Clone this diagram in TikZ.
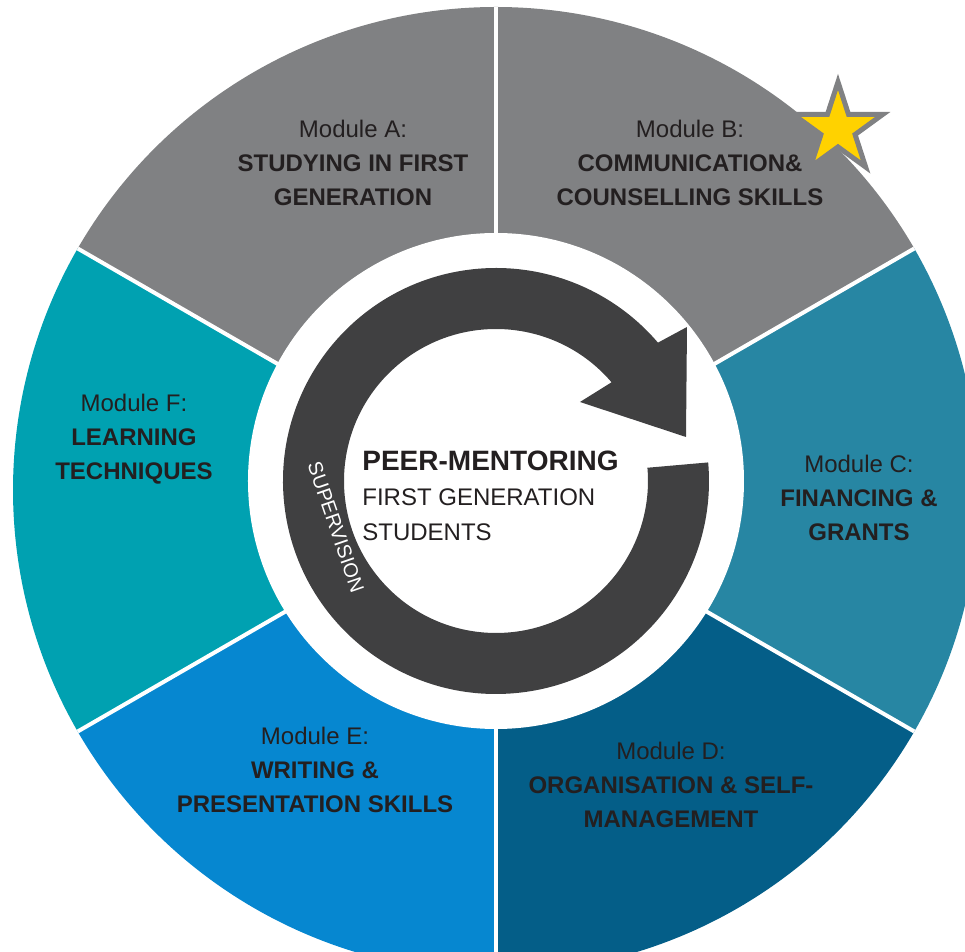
\documentclass[tikz,border=0pt]{standalone}
\usepackage{fontspec}
\setmainfont{Liberation Sans}
\usetikzlibrary{positioning,shapes.geometric}
\definecolor{seg-gray}{RGB}{128,129,131}
\definecolor{seg-c}{RGB}{39,134,163}
\definecolor{seg-d}{RGB}{4,94,136}
\definecolor{seg-e}{RGB}{6,135,208}
\definecolor{seg-f}{RGB}{0,161,177}
\definecolor{ring-gray}{RGB}{64,64,65}
\definecolor{label-dark}{RGB}{35,31,32}
\definecolor{star-yellow}{RGB}{255,210,0}
\newcommand{\wheelrad}{483}
\tikzstyle{modulestyle}=[align=center,text=label-dark,inner sep=0pt,font=\fontsize{12}{17}\selectfont]
\tikzstyle{centerstyle}=[align=left,text=label-dark,inner sep=0pt,font=\fontsize{12}{17.5}\selectfont]
\tikzstyle{ringtextstyle}=[text=white,inner sep=0pt,font=\fontsize{10}{12}\selectfont]
\tikzstyle{starstyle}=[star,star points=5,star point ratio=2.618,minimum size=47pt,inner sep=0pt,fill=star-yellow,draw=seg-gray,line width=2.5pt]
\newcommand{\wheelseg}[3]{ \fill[#3] (0,0) -- (#1:\wheelrad) arc[start angle=#1,end angle=#2,radius=\wheelrad] -- cycle; }
\newcommand{\wheelmodule}[5]{ \node[style=modulestyle] (#1) at (#2) {Module #3:\\\textbf{#4}\\\textbf{#5}}; }

\begin{document}
\begin{tikzpicture}[x=0.5pt,y=0.5pt]
\useasboundingbox (-496,-462) rectangle (469,490);
\wheelseg{90}{150}{seg-gray} %
\wheelseg{30}{90}{seg-gray} %
\wheelseg{-30}{30}{seg-c} %
\wheelseg{-90}{-30}{seg-d} %
\wheelseg{-150}{-90}{seg-e} %
\wheelseg{150}{210}{seg-f} %
\foreach \a in {30,90,...,330} \draw[white,line width=2pt] (0,0) -- (\a:\wheelrad);
\fill[white] (0,9) circle[radius=248];
\begin{scope}[shift={(0,9)}]
\fill[ring-gray] (5:213) arc[start angle=5,end angle=-319.5,radius=213] -- (191,154) -- (190,44) -- (84,79) -- (40.5:152) arc[start angle=40.5,end angle=365,radius=152] -- cycle;
\end{scope}
\wheelmodule{modA}{-143,327}{A}{STUDYING IN FIRST}{GENERATION} %
\wheelmodule{modB}{194,327}{B}{COMMUNICATION\&}{COUNSELLING SKILLS} %
\wheelmodule{modC}{363,-8}{C}{FINANCING \&}{GRANTS} %
\wheelmodule{modD}{175,-295}{D}{ORGANISATION \& SELF-}{MANAGEMENT} %
\wheelmodule{modE}{-181,-280}{E}{WRITING \&}{PRESENTATION SKILLS} %
\wheelmodule{modF}{-362,51}{F}{LEARNING}{TECHNIQUES} %
\node[centerstyle,anchor=west] (peer) at (-134,-6) {{\fontsize{14}{17.5}\selectfont\bfseries PEER-MENTORING}\\FIRST GENERATION\\STUDENTS};
\node[ringtextstyle,rotate=-71] (superv) at (-160,-37) {SUPERVISION};
\node[starstyle] (star) at (342,361) {};
\end{tikzpicture}
\end{document}
